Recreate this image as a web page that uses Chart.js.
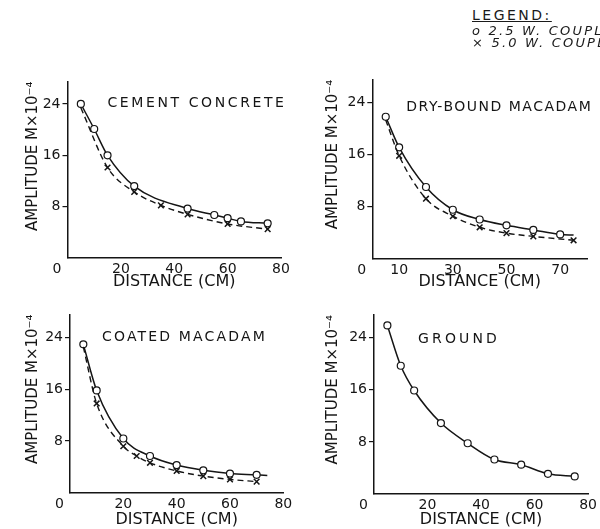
<!DOCTYPE html>
<html>
<head>
<meta charset="utf-8">
<script src="https://cdn.jsdelivr.net/npm/chart.js@4.4.0/dist/chart.umd.min.js"></script>
<style>
  html, body { margin: 0; padding: 0; background: #fff; overflow: hidden; }
  #wrap { position: relative; width: 600px; height: 529px; overflow: hidden; }
  canvas { position: absolute; }
  .lg { position: absolute; left: 472px; white-space: nowrap; color: #1a1a1a;
        font-family: "DejaVu Sans", sans-serif; }
  .lg.head { top: 8px; font-size: 14px; line-height: 14px; letter-spacing: 2.5px; text-decoration: underline; }
  .lg.item { font-size: 13px; line-height: 13px; letter-spacing: 2.2px; font-style: italic; }
</style>
</head>
<body>
<div id="wrap">
  <canvas id="cement"></canvas>
  <canvas id="drybound"></canvas>
  <canvas id="coated"></canvas>
  <canvas id="ground"></canvas>
  <div class="lg head">LEGEND:</div>
  <div class="lg item" style="top:24px">o 2.5 W. COUPLER</div>
  <div class="lg item" style="top:35.5px">× 5.0 W. COUPLER</div>
</div>
<script>
// Tick labels
const yTicks = [8, 16, 24];
const xTicksA = [0, 20, 40, 60, 80];
const xTicksB = [0, 10, 30, 50, 70];

// Cement concrete
const cementDist25 = [5, 10, 15, 25, 45, 55, 60, 65, 75];
const cementAmp25 = [24, 20.1, 16, 11.2, 7.7, 6.7, 6.2, 5.7, 5.4];
const cementDist50 = [5, 15, 25, 35, 45, 60, 75];
const cementAmp50 = [23.4, 14.1, 10.3, 8.2, 6.8, 5.3, 4.5];

// Dry-bound macadam
const dryDist25 = [5, 10, 20, 30, 40, 50, 60, 70, 75];
const dryAmp25 = [21.8, 17.1, 11, 7.5, 6, 5.1, 4.4, 3.7, 3.6];
const dryDist50 = [5, 10, 20, 30, 40, 50, 60, 75];
const dryAmp50 = [21.3, 15.8, 9.2, 6.5, 4.8, 3.9, 3.4, 2.8];

// Coated macadam
const coatedDist25 = [5, 10, 20, 30, 40, 50, 60, 70, 74];
const coatedAmp25 = [22.9, 15.8, 8.4, 5.7, 4.3, 3.5, 3.0, 2.8, 2.7];
const coatedDist50 = [5, 10, 20, 25, 30, 40, 50, 60, 70];
const coatedAmp50 = [22.5, 13.8, 7.2, 5.7, 4.65, 3.4, 2.6, 2.1, 1.75];

// Ground (2.5 W only)
const groundDist25 = [5, 10, 15, 25, 35, 45, 55, 65, 75];
const groundAmp25 = [25.9, 19.7, 15.9, 10.9, 7.8, 5.3, 4.5, 3.1, 2.7];

const ink = '#151515';
const FONT = '"DejaVu Sans", sans-serif';

// draws the surface name inside the plot area, stretched to the lettered width
const panelTitle = {
    id: 'panelTitle',
    afterDatasetsDraw(chart, args, opts) {
        const { ctx, chartArea, scales } = chart;
        ctx.save();
        ctx.font = '14px ' + FONT;
        ctx.letterSpacing = '0px';
        const w = ctx.measureText(opts.text).width;
        const gap = Math.max(0, (opts.width - w) / opts.text.length);
        ctx.letterSpacing = gap + 'px';
        ctx.fillStyle = ink;
        ctx.textBaseline = 'middle';
        ctx.fillText(opts.text, chartArea.left + opts.dx, scales.y.getPixelForValue(opts.y));
        ctx.restore();
    }
};

function points(xs, ys) {
    return xs.map((x, i) => ({ x: x, y: ys[i] }));
}

function makePanel(id, box, area, p) {
    const canvas = document.getElementById(id);
    canvas.width = box.w;
    canvas.height = box.h;
    canvas.style.left = box.x + 'px';
    canvas.style.top = box.y + 'px';

    const yAxisW = area.left - box.x;
    const xAxisH = box.y + box.h - area.bottom;

    const datasets = [];
    if (p.d50) {
        datasets.push({
            data: points(p.d50, p.a50),
            showLine: true,
            borderColor: ink,
            borderWidth: 1.4,
            borderDash: [6, 4],
            cubicInterpolationMode: 'monotone',
            pointStyle: 'crossRot',
            pointRadius: c => (p.hideFirst50 && c.dataIndex === 0) ? 0 : 4,
            pointBorderColor: ink,
            pointBorderWidth: 1.5
        });
    }
    datasets.push({
        data: points(p.d25, p.a25),
        showLine: true,
        borderColor: ink,
        borderWidth: 1.5,
        cubicInterpolationMode: 'monotone',
        pointStyle: 'circle',
        pointRadius: c => (p.hideLast25 && c.dataIndex === p.d25.length - 1) ? 0 : 3.5,
        pointBackgroundColor: '#fff',
        pointBorderColor: ink,
        pointBorderWidth: 1.2
    });

    new Chart(canvas, {
        type: 'scatter',
        data: { datasets: datasets },
        options: {
            responsive: false,
            animation: false,
            layout: {
                padding: { left: 0, top: area.top - box.y, right: box.x + box.w - area.right, bottom: 0 }
            },
            scales: {
                x: {
                    type: 'linear',
                    min: 0,
                    max: 80,
                    afterBuildTicks: s => { s.ticks = p.xTicks.map(v => ({ value: v })); },
                    ticks: {
                        autoSkip: false,
                        maxRotation: 0,
                        padding: 3,
                        color: ink,
                        font: { family: FONT, size: 14 },
                        // the zero sits left of the corner in the original
                        callback: v => v === 0 ? '0\u2003\u2002' : String(v)
                    },
                    grid: { display: false, drawTicks: false },
                    border: { display: true, color: ink, width: 1.5 },
                    title: {
                        display: true,
                        text: 'DISTANCE (CM)',
                        color: ink,
                        font: { family: FONT, size: 16 },
                        padding: { top: 0, bottom: p.xTitlePad }
                    },
                    afterFit: s => { s.height = xAxisH; }
                },
                y: {
                    type: 'linear',
                    min: 0,
                    max: 27.5,
                    afterBuildTicks: s => { s.ticks = yTicks.map(v => ({ value: v })); },
                    ticks: { padding: 2, color: ink, font: { family: FONT, size: 14 } },
                    grid: { drawOnChartArea: false, drawTicks: true, tickLength: 5, color: ink, lineWidth: 1.2 },
                    border: { display: true, color: ink, width: 1.5 },
                    title: {
                        display: true,
                        align: 'end',
                        text: 'AMPLITUDE M×10⁻⁴',
                        color: ink,
                        font: { family: FONT, size: 15 },
                        padding: { top: p.yTitleX - 9, bottom: 0 }
                    },
                    afterFit: s => { s.width = yAxisW; }
                }
            },
            plugins: {
                legend: { display: false },
                tooltip: { enabled: false },
                panelTitle: { text: p.title, dx: p.titleDx, y: p.titleY, width: p.titleW }
            }
        },
        plugins: [panelTitle]
    });
}

makePanel('cement',
    { x: 0, y: 40, w: 300, h: 255 },
    { left: 67.5, right: 281, top: 81.5, bottom: 258 },
    { d25: cementDist25, a25: cementAmp25, d50: cementDist50, a50: cementAmp50,
      hideFirst50: true, xTicks: xTicksA,
      title: 'CEMENT CONCRETE', titleDx: 40, titleY: 24.1, titleW: 179,
      xTitlePad: 3.4, yTitleX: 33 });

makePanel('drybound',
    { x: 300, y: 40, w: 300, h: 255 },
    { left: 372.3, right: 587, top: 79.7, bottom: 258.5 },
    { d25: dryDist25, a25: dryAmp25, d50: dryDist50, a50: dryAmp50,
      hideFirst50: true, hideLast25: true, xTicks: xTicksB,
      title: 'DRY-BOUND MACADAM', titleDx: 34, titleY: 23.3, titleW: 186,
      xTitlePad: 3.7, yTitleX: 33 });

makePanel('coated',
    { x: 0, y: 275, w: 300, h: 254 },
    { left: 70, right: 283.3, top: 314.5, bottom: 493 },
    { d25: coatedDist25, a25: coatedAmp25, d50: coatedDist50, a50: coatedAmp50,
      hideFirst50: true, hideLast25: true, xTicks: xTicksA,
      title: 'COATED MACADAM', titleDx: 32, titleY: 24, titleW: 165,
      xTitlePad: 0, yTitleX: 33 });

makePanel('ground',
    { x: 300, y: 275, w: 300, h: 254 },
    { left: 374, right: 588.7, top: 315, bottom: 494 },
    { d25: groundDist25, a25: groundAmp25, xTicks: xTicksA,
      title: 'GROUND', titleDx: 44, titleY: 23.8, titleW: 82,
      xTitlePad: 0, yTitleX: 33 });
</script>
</body>
</html>
